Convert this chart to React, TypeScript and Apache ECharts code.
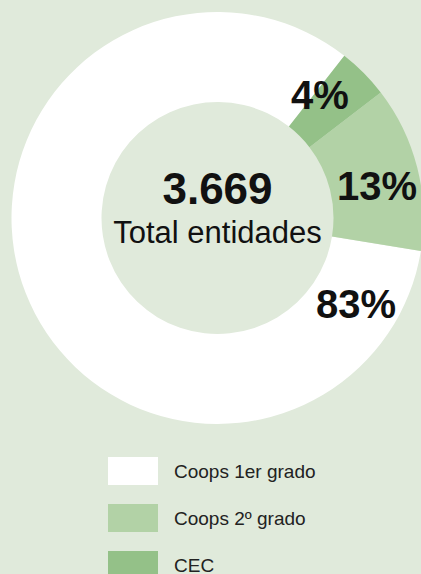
import React, { useEffect, useRef } from "react";
import * as echarts from "echarts";

const categories = ["Coops 1er grado", "Coops 2º grado", "CEC"];
const values = [3045, 477, 147];
const colors = ["#ffffff", "#b2d2a6", "#94c188"];
const labelSpots = [
  [356, 304],
  [377, 186],
  [320, 95],
];

const FONT = "'Liberation Sans', Arial, Helvetica, sans-serif";

export default function App() {
  const ref = useRef<HTMLDivElement>(null);
  useEffect(() => {
    if (!ref.current) return;
    const chart = echarts.init(ref.current, undefined, { renderer: "svg" });
    const total = values.reduce((a, b) => a + b, 0);
    const totalText = total.toString().replace(/\B(?=(\d{3})+(?!\d))/g, ".");
    chart.setOption({
      animation: false,
      backgroundColor: "#e0eadb",
      legend: {
        orient: "vertical",
        left: 108,
        top: 457,
        height: 160,
        padding: 0,
        itemWidth: 50,
        itemHeight: 28,
        itemGap: 19,
        icon: "rect",
        data: categories,
        textStyle: {
          fontFamily: FONT,
          fontSize: 19,
          color: "#222",
          padding: [0, 0, 0, 11],
        },
        selectedMode: false,
      },
      graphic: [
        {
          type: "text",
          style: {
            text: totalText,
            x: 217.5,
            y: 188,
            align: "center",
            verticalAlign: "middle",
            fontFamily: FONT,
            fontWeight: "bold",
            fontSize: 44,
            fill: "#111",
          },
        },
        {
          type: "text",
          style: {
            text: "Total entidades",
            x: 217.5,
            y: 232,
            align: "center",
            verticalAlign: "middle",
            fontFamily: FONT,
            fontSize: 31,
            fill: "#111",
          },
        },
      ],
      series: [
        {
          type: "pie",
          center: [217.5, 218],
          radius: [116, 206],
          startAngle: 52,
          clockwise: false,
          percentPrecision: 0,
          itemStyle: { borderWidth: 0 },
          emphasis: { disabled: true },
          label: {
            show: true,
            position: "inside",
            formatter: "{d}%",
            fontFamily: FONT,
            fontWeight: "bold",
            fontSize: 40,
            color: "#111",
          },
          labelLine: { show: false },
          labelLayout: (p: any) => {
            const s = labelSpots[p.dataIndex];
            return { x: s[0], y: s[1], align: "center", verticalAlign: "middle" };
          },
          data: categories.map((c, i) => ({
            name: c,
            value: values[i],
            itemStyle: { color: colors[i] },
          })),
        },
      ],
    });
    return () => chart.dispose();
  }, []);
  return (
    <div
      ref={ref}
      style={{ position: "absolute", left: 0, top: 0, width: 421, height: 574 }}
    />
  );
}
